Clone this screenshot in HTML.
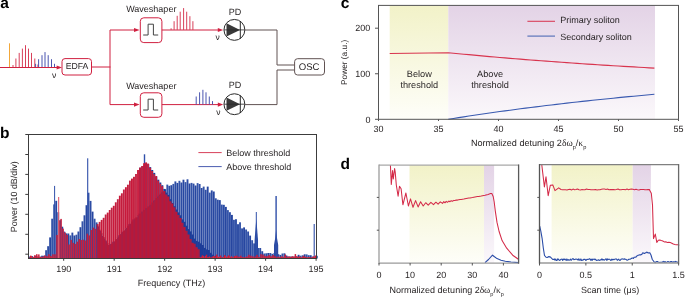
<!DOCTYPE html>
<html><head><meta charset="utf-8"><style>
html,body{margin:0;padding:0;background:#fff;}
svg{display:block;font-family:"Liberation Sans", sans-serif;will-change:transform;text-rendering:geometricPrecision;}
</style></head><body>
<svg width="685" height="297" viewBox="0 0 685 297">
<text x="0.2" y="8.4" font-size="15.5" text-anchor="start" fill="#000" font-weight="bold" >a</text>
<text x="0.0" y="138.2" font-size="15.5" text-anchor="start" fill="#000" font-weight="bold" >b</text>
<text x="340.8" y="8.4" font-size="15.5" text-anchor="start" fill="#000" font-weight="bold" >c</text>
<text x="340.6" y="169.2" font-size="15.5" text-anchor="start" fill="#000" font-weight="bold" >d</text>
<line x1="0" y1="67.5" x2="58" y2="67.5" stroke="#d02040" stroke-width="1"/>
<polygon points="56.6,65.4 62,67.5 56.6,69.6" fill="#d02040"/>
<line x1="9.5" y1="43.3" x2="9.5" y2="67" stroke="#f2a73a" stroke-width="1"/>
<line x1="13" y1="65" x2="13" y2="67" stroke="#d8405a" stroke-width="1"/>
<line x1="15.9" y1="58.5" x2="15.9" y2="67" stroke="#d8405a" stroke-width="1"/>
<line x1="19.2" y1="52.9" x2="19.2" y2="67" stroke="#d8405a" stroke-width="1"/>
<line x1="22.4" y1="48.6" x2="22.4" y2="67" stroke="#d8405a" stroke-width="1"/>
<line x1="25.5" y1="45.2" x2="25.5" y2="67" stroke="#d8405a" stroke-width="1"/>
<line x1="28.5" y1="48.6" x2="28.5" y2="67" stroke="#d8405a" stroke-width="1"/>
<line x1="31.5" y1="52.9" x2="31.5" y2="67" stroke="#d8405a" stroke-width="1"/>
<line x1="34.8" y1="58.5" x2="34.8" y2="67" stroke="#d8405a" stroke-width="1"/>
<line x1="37.9" y1="64.5" x2="37.9" y2="67" stroke="#d8405a" stroke-width="1"/>
<line x1="35.6" y1="63.8" x2="35.6" y2="67" stroke="#4a55b0" stroke-width="1"/>
<line x1="38.6" y1="59.2" x2="38.6" y2="67" stroke="#4a55b0" stroke-width="1"/>
<line x1="42" y1="55.2" x2="42" y2="67" stroke="#4a55b0" stroke-width="1"/>
<line x1="45" y1="52.1" x2="45" y2="67" stroke="#4a55b0" stroke-width="1"/>
<line x1="48.2" y1="55.2" x2="48.2" y2="67" stroke="#4a55b0" stroke-width="1"/>
<line x1="51.5" y1="59.2" x2="51.5" y2="67" stroke="#4a55b0" stroke-width="1"/>
<line x1="54.5" y1="63.8" x2="54.5" y2="67" stroke="#4a55b0" stroke-width="1"/>
<text x="52.0" y="78.3" font-size="8.5" text-anchor="start" fill="#231f20" font-weight="normal" >ν</text>
<rect x="62.0" y="58.6" width="29.5" height="16.4" rx="3" fill="#fff" stroke="#d02040" stroke-width="1"/>
<text x="77.0" y="69.4" font-size="8.7" text-anchor="middle" fill="#231f20" font-weight="normal" >EDFA</text>
<line x1="91.5" y1="67.0" x2="110.5" y2="67.0" stroke="#d02040" stroke-width="1"/>
<line x1="110.0" y1="30.0" x2="110.0" y2="104.6" stroke="#d02040" stroke-width="1"/>
<line x1="110.0" y1="30.0" x2="135" y2="30.0" stroke="#d02040" stroke-width="1"/>
<polygon points="134,27.9 139.6,30.0 134,32.1" fill="#d02040"/>
<rect x="140.3" y="17.8" width="21.6" height="24.8" rx="3.5" fill="#fff" stroke="#d02040" stroke-width="1"/>
<polyline points="143.2,35.0 148.1,35.0 148.1,24.2 153.4,24.2 153.4,35.0 158.2,35.0" fill="none" stroke="#444" stroke-width="1"/>
<text x="151.3" y="12.1" font-size="9" text-anchor="middle" fill="#231f20" font-weight="normal" >Waveshaper</text>
<line x1="161.9" y1="30.0" x2="219" y2="30.0" stroke="#d02040" stroke-width="1"/>
<polygon points="217.8,27.9 223.2,30.0 217.8,32.1" fill="#d02040"/>
<line x1="110.0" y1="104.6" x2="135" y2="104.6" stroke="#d02040" stroke-width="1"/>
<polygon points="134,102.5 139.6,104.6 134,106.69999999999999" fill="#d02040"/>
<rect x="140.3" y="92.8" width="21.6" height="24.5" rx="3.5" fill="#fff" stroke="#d02040" stroke-width="1"/>
<polyline points="143.2,110.0 148.1,110.0 148.1,99.2 153.4,99.2 153.4,110.0 158.2,110.0" fill="none" stroke="#444" stroke-width="1"/>
<text x="151.3" y="88.7" font-size="9" text-anchor="middle" fill="#231f20" font-weight="normal" >Waveshaper</text>
<line x1="161.9" y1="104.6" x2="219" y2="104.6" stroke="#d02040" stroke-width="1"/>
<polygon points="217.8,102.5 223.2,104.6 217.8,106.69999999999999" fill="#d02040"/>
<line x1="171.1" y1="28.3" x2="171.1" y2="30" stroke="#d8405a" stroke-width="1"/>
<line x1="174.1" y1="21.2" x2="174.1" y2="30" stroke="#d8405a" stroke-width="1"/>
<line x1="177.2" y1="15.8" x2="177.2" y2="30" stroke="#d8405a" stroke-width="1"/>
<line x1="180.2" y1="11.7" x2="180.2" y2="30" stroke="#d8405a" stroke-width="1"/>
<line x1="183.6" y1="8.1" x2="183.6" y2="30" stroke="#d8405a" stroke-width="1"/>
<line x1="186.7" y1="11.7" x2="186.7" y2="30" stroke="#d8405a" stroke-width="1"/>
<line x1="189.9" y1="16.2" x2="189.9" y2="30" stroke="#d8405a" stroke-width="1"/>
<line x1="192.9" y1="21.2" x2="192.9" y2="30" stroke="#d8405a" stroke-width="1"/>
<line x1="196.2" y1="96.5" x2="196.2" y2="104.6" stroke="#4a55b0" stroke-width="1"/>
<line x1="199.6" y1="92.3" x2="199.6" y2="104.6" stroke="#4a55b0" stroke-width="1"/>
<line x1="202.9" y1="89.8" x2="202.9" y2="104.6" stroke="#4a55b0" stroke-width="1"/>
<line x1="206" y1="92.3" x2="206" y2="104.6" stroke="#4a55b0" stroke-width="1"/>
<line x1="209.3" y1="96.5" x2="209.3" y2="104.6" stroke="#4a55b0" stroke-width="1"/>
<line x1="212.5" y1="101.1" x2="212.5" y2="104.6" stroke="#4a55b0" stroke-width="1"/>
<text x="215.4" y="40.4" font-size="8.5" text-anchor="start" fill="#231f20" font-weight="normal" >ν</text>
<text x="216.2" y="115.1" font-size="8.5" text-anchor="start" fill="#231f20" font-weight="normal" >ν</text>
<circle cx="234.4" cy="29.9" r="10.45" fill="#fff" stroke="#2a2a2a" stroke-width="1"/>
<polygon points="226.5,23.299999999999997 240,29.9 226.5,36.5" fill="#3a3a3a"/>
<line x1="240.3" y1="21.0" x2="240.3" y2="38.8" stroke="#2a2a2a" stroke-width="1"/>
<line x1="224" y1="29.9" x2="244.8" y2="29.9" stroke="#2a2a2a" stroke-width="0.8"/>
<text x="235.1" y="15.2" font-size="9" text-anchor="middle" fill="#231f20" font-weight="normal" >PD</text>
<circle cx="234.4" cy="104.2" r="10.45" fill="#fff" stroke="#2a2a2a" stroke-width="1"/>
<polygon points="226.5,97.60000000000001 240,104.2 226.5,110.8" fill="#3a3a3a"/>
<line x1="240.3" y1="95.3" x2="240.3" y2="113.10000000000001" stroke="#2a2a2a" stroke-width="1"/>
<line x1="224" y1="104.2" x2="244.8" y2="104.2" stroke="#2a2a2a" stroke-width="0.8"/>
<text x="235.1" y="87.5" font-size="9" text-anchor="middle" fill="#231f20" font-weight="normal" >PD</text>
<path d="M244.8,30 H277 V65 H294.6" fill="none" stroke="#605252" stroke-width="1"/>
<path d="M244.8,104.6 H277 V70 H294.6" fill="none" stroke="#605252" stroke-width="1"/>
<rect x="294.6" y="58.7" width="29.9" height="16.3" rx="3" fill="#fff" stroke="#605252" stroke-width="1"/>
<text x="309.1" y="70.4" font-size="9.6" text-anchor="middle" fill="#231f20" font-weight="normal" >OSC</text>
<g>
<rect x="29.00" y="256.5" width="1.88" height="2.0" fill="#2c4ca4"/>
<rect x="31.02" y="256.0" width="1.88" height="2.5" fill="#2646a0"/>
<rect x="33.04" y="257.5" width="1.88" height="1.0" fill="#3454a8"/>
<rect x="35.06" y="255.7" width="1.88" height="2.8" fill="#2c4ca4"/>
<rect x="37.08" y="257.1" width="1.88" height="1.4" fill="#2646a0"/>
<rect x="39.10" y="256.6" width="1.88" height="1.9" fill="#3454a8"/>
<rect x="41.12" y="255.7" width="1.88" height="2.8" fill="#2c4ca4"/>
<rect x="43.14" y="255.7" width="1.88" height="2.8" fill="#2646a0"/>
<rect x="45.16" y="250.2" width="1.88" height="8.3" fill="#3454a8"/>
<rect x="47.18" y="246.2" width="1.88" height="12.3" fill="#2c4ca4"/>
<rect x="49.20" y="237.4" width="1.88" height="21.1" fill="#2646a0"/>
<rect x="51.22" y="218.7" width="1.88" height="39.8" fill="#3454a8"/>
<rect x="53.24" y="204.4" width="1.88" height="54.1" fill="#2c4ca4"/>
<rect x="55.26" y="200.8" width="1.88" height="57.7" fill="#2646a0"/>
<rect x="57.28" y="212.2" width="1.88" height="46.3" fill="#3454a8"/>
<rect x="59.30" y="220.2" width="1.88" height="38.3" fill="#2c4ca4"/>
<rect x="61.32" y="226.7" width="1.88" height="31.8" fill="#2646a0"/>
<rect x="63.34" y="231.6" width="1.88" height="26.9" fill="#3454a8"/>
<rect x="65.36" y="233.4" width="1.88" height="25.1" fill="#2c4ca4"/>
<rect x="67.38" y="233.5" width="1.88" height="25.0" fill="#2646a0"/>
<rect x="69.40" y="235.4" width="1.88" height="23.1" fill="#3454a8"/>
<rect x="71.42" y="232.6" width="1.88" height="25.9" fill="#2c4ca4"/>
<rect x="73.44" y="235.5" width="1.88" height="23.0" fill="#2646a0"/>
<rect x="75.46" y="234.7" width="1.88" height="23.8" fill="#3454a8"/>
<rect x="77.48" y="231.5" width="1.88" height="27.0" fill="#2c4ca4"/>
<rect x="79.50" y="227.2" width="1.88" height="31.3" fill="#2646a0"/>
<rect x="81.52" y="221.3" width="1.88" height="37.2" fill="#3454a8"/>
<rect x="83.54" y="215.3" width="1.88" height="43.2" fill="#2c4ca4"/>
<rect x="85.56" y="205.2" width="1.88" height="53.3" fill="#2646a0"/>
<rect x="87.58" y="192.7" width="1.88" height="65.8" fill="#3454a8"/>
<rect x="89.60" y="200.9" width="1.88" height="57.6" fill="#2c4ca4"/>
<rect x="91.62" y="211.6" width="1.88" height="46.9" fill="#2646a0"/>
<rect x="93.64" y="218.7" width="1.88" height="39.8" fill="#3454a8"/>
<rect x="95.66" y="222.4" width="1.88" height="36.1" fill="#2c4ca4"/>
<rect x="97.68" y="226.6" width="1.88" height="31.9" fill="#2646a0"/>
<rect x="99.70" y="230.8" width="1.88" height="27.7" fill="#3454a8"/>
<rect x="101.72" y="236.0" width="1.88" height="22.5" fill="#2c4ca4"/>
<rect x="103.74" y="238.4" width="1.88" height="20.1" fill="#2646a0"/>
<rect x="105.76" y="241.2" width="1.88" height="17.3" fill="#3454a8"/>
<rect x="107.78" y="245.1" width="1.88" height="13.4" fill="#2c4ca4"/>
<rect x="109.80" y="244.0" width="1.88" height="14.5" fill="#2646a0"/>
<rect x="111.82" y="241.8" width="1.88" height="16.7" fill="#3454a8"/>
<rect x="113.84" y="241.6" width="1.88" height="16.9" fill="#2c4ca4"/>
<rect x="115.86" y="239.1" width="1.88" height="19.4" fill="#2646a0"/>
<rect x="117.88" y="235.3" width="1.88" height="23.2" fill="#3454a8"/>
<rect x="119.90" y="234.0" width="1.88" height="24.5" fill="#2c4ca4"/>
<rect x="121.92" y="231.6" width="1.88" height="26.9" fill="#2646a0"/>
<rect x="123.94" y="230.4" width="1.88" height="28.1" fill="#3454a8"/>
<rect x="125.96" y="227.8" width="1.88" height="30.7" fill="#2c4ca4"/>
<rect x="127.98" y="224.2" width="1.88" height="34.3" fill="#2646a0"/>
<rect x="130.00" y="224.1" width="1.88" height="34.4" fill="#3454a8"/>
<rect x="132.02" y="219.4" width="1.88" height="39.1" fill="#2c4ca4"/>
<rect x="134.04" y="218.3" width="1.88" height="40.2" fill="#2646a0"/>
<rect x="136.06" y="217.3" width="1.88" height="41.2" fill="#3454a8"/>
<rect x="138.08" y="213.5" width="1.88" height="45.0" fill="#2c4ca4"/>
<rect x="140.10" y="212.5" width="1.88" height="46.0" fill="#2646a0"/>
<rect x="142.12" y="209.3" width="1.88" height="49.2" fill="#3454a8"/>
<rect x="144.14" y="209.5" width="1.88" height="49.0" fill="#2c4ca4"/>
<rect x="146.16" y="208.1" width="1.88" height="50.4" fill="#2646a0"/>
<rect x="148.18" y="205.8" width="1.88" height="52.7" fill="#3454a8"/>
<rect x="150.20" y="204.9" width="1.88" height="53.6" fill="#2c4ca4"/>
<rect x="152.22" y="200.9" width="1.88" height="57.6" fill="#2646a0"/>
<rect x="154.24" y="199.7" width="1.88" height="58.8" fill="#3454a8"/>
<rect x="156.26" y="197.1" width="1.88" height="61.4" fill="#2c4ca4"/>
<rect x="158.28" y="195.0" width="1.88" height="63.5" fill="#2646a0"/>
<rect x="160.30" y="192.6" width="1.88" height="65.9" fill="#3454a8"/>
<rect x="162.32" y="191.7" width="1.88" height="66.8" fill="#2c4ca4"/>
<rect x="164.34" y="189.2" width="1.88" height="69.3" fill="#2646a0"/>
<rect x="166.36" y="184.6" width="1.88" height="73.9" fill="#3454a8"/>
<rect x="168.38" y="185.8" width="1.88" height="72.7" fill="#2c4ca4"/>
<rect x="170.40" y="185.2" width="1.88" height="73.3" fill="#2646a0"/>
<rect x="172.42" y="183.9" width="1.88" height="74.6" fill="#3454a8"/>
<rect x="174.44" y="181.4" width="1.88" height="77.1" fill="#2c4ca4"/>
<rect x="176.46" y="182.9" width="1.88" height="75.6" fill="#2646a0"/>
<rect x="178.48" y="180.8" width="1.88" height="77.7" fill="#3454a8"/>
<rect x="180.50" y="182.5" width="1.88" height="76.0" fill="#2c4ca4"/>
<rect x="182.52" y="179.7" width="1.88" height="78.8" fill="#2646a0"/>
<rect x="184.54" y="182.1" width="1.88" height="76.4" fill="#3454a8"/>
<rect x="186.56" y="179.3" width="1.88" height="79.2" fill="#2c4ca4"/>
<rect x="188.58" y="183.5" width="1.88" height="75.0" fill="#2646a0"/>
<rect x="190.60" y="182.9" width="1.88" height="75.6" fill="#3454a8"/>
<rect x="192.62" y="183.6" width="1.88" height="74.9" fill="#2c4ca4"/>
<rect x="194.64" y="185.5" width="1.88" height="73.0" fill="#2646a0"/>
<rect x="196.66" y="183.1" width="1.88" height="75.4" fill="#3454a8"/>
<rect x="198.68" y="184.0" width="1.88" height="74.5" fill="#2c4ca4"/>
<rect x="200.70" y="188.0" width="1.88" height="70.5" fill="#2646a0"/>
<rect x="202.72" y="186.6" width="1.88" height="71.9" fill="#3454a8"/>
<rect x="204.74" y="189.8" width="1.88" height="68.7" fill="#2c4ca4"/>
<rect x="206.76" y="186.6" width="1.88" height="71.9" fill="#2646a0"/>
<rect x="208.78" y="192.6" width="1.88" height="65.9" fill="#3454a8"/>
<rect x="210.80" y="190.4" width="1.88" height="68.1" fill="#2c4ca4"/>
<rect x="212.82" y="191.5" width="1.88" height="67.0" fill="#2646a0"/>
<rect x="214.84" y="198.3" width="1.88" height="60.2" fill="#3454a8"/>
<rect x="216.86" y="199.7" width="1.88" height="58.8" fill="#2c4ca4"/>
<rect x="218.88" y="200.1" width="1.88" height="58.4" fill="#2646a0"/>
<rect x="220.90" y="204.6" width="1.88" height="53.9" fill="#3454a8"/>
<rect x="222.92" y="204.8" width="1.88" height="53.7" fill="#2c4ca4"/>
<rect x="224.94" y="206.9" width="1.88" height="51.6" fill="#2646a0"/>
<rect x="226.96" y="210.1" width="1.88" height="48.4" fill="#3454a8"/>
<rect x="228.98" y="212.2" width="1.88" height="46.3" fill="#2c4ca4"/>
<rect x="231.00" y="214.9" width="1.88" height="43.6" fill="#2646a0"/>
<rect x="233.02" y="219.8" width="1.88" height="38.7" fill="#3454a8"/>
<rect x="235.04" y="219.2" width="1.88" height="39.3" fill="#2c4ca4"/>
<rect x="237.06" y="224.2" width="1.88" height="34.3" fill="#2646a0"/>
<rect x="239.08" y="222.3" width="1.88" height="36.2" fill="#3454a8"/>
<rect x="241.10" y="228.4" width="1.88" height="30.1" fill="#2c4ca4"/>
<rect x="243.12" y="227.4" width="1.88" height="31.1" fill="#2646a0"/>
<rect x="245.14" y="229.5" width="1.88" height="29.0" fill="#3454a8"/>
<rect x="247.16" y="231.5" width="1.88" height="27.0" fill="#2c4ca4"/>
<rect x="249.18" y="235.6" width="1.88" height="22.9" fill="#2646a0"/>
<rect x="251.20" y="240.2" width="1.88" height="18.3" fill="#3454a8"/>
<rect x="253.22" y="243.4" width="1.88" height="15.1" fill="#2c4ca4"/>
<rect x="255.24" y="245.3" width="1.88" height="13.2" fill="#2646a0"/>
<rect x="257.26" y="248.0" width="1.88" height="10.5" fill="#3454a8"/>
<rect x="259.28" y="248.0" width="1.88" height="10.5" fill="#2c4ca4"/>
<rect x="261.30" y="251.2" width="1.88" height="7.3" fill="#2646a0"/>
<rect x="263.32" y="253.5" width="1.88" height="5.0" fill="#3454a8"/>
<rect x="265.34" y="253.3" width="1.88" height="5.2" fill="#2c4ca4"/>
<rect x="267.36" y="253.0" width="1.88" height="5.5" fill="#2646a0"/>
<rect x="269.38" y="253.0" width="1.88" height="5.5" fill="#3454a8"/>
<rect x="271.40" y="253.8" width="1.88" height="4.7" fill="#2c4ca4"/>
<rect x="273.42" y="253.1" width="1.88" height="5.4" fill="#2646a0"/>
<rect x="275.44" y="254.9" width="1.88" height="3.6" fill="#3454a8"/>
<rect x="277.46" y="254.2" width="1.88" height="4.3" fill="#2c4ca4"/>
<rect x="279.48" y="254.9" width="1.88" height="3.6" fill="#2646a0"/>
<rect x="281.50" y="253.5" width="1.88" height="5.0" fill="#3454a8"/>
<rect x="283.52" y="253.3" width="1.88" height="5.2" fill="#2c4ca4"/>
<rect x="285.54" y="255.5" width="1.88" height="3.0" fill="#2646a0"/>
<rect x="287.56" y="256.4" width="1.88" height="2.1" fill="#3454a8"/>
<rect x="289.58" y="256.5" width="1.88" height="2.0" fill="#2c4ca4"/>
<rect x="291.60" y="256.4" width="1.88" height="2.1" fill="#2646a0"/>
<rect x="293.62" y="256.5" width="1.88" height="2.0" fill="#3454a8"/>
<rect x="295.64" y="256.3" width="1.88" height="2.2" fill="#2c4ca4"/>
<rect x="297.66" y="254.8" width="1.88" height="3.7" fill="#2646a0"/>
<rect x="299.68" y="255.7" width="1.88" height="2.8" fill="#3454a8"/>
<rect x="301.70" y="255.3" width="1.88" height="3.2" fill="#2c4ca4"/>
<rect x="303.72" y="254.3" width="1.88" height="4.2" fill="#2646a0"/>
<rect x="305.74" y="254.4" width="1.88" height="4.1" fill="#3454a8"/>
<rect x="307.76" y="255.2" width="1.88" height="3.3" fill="#2c4ca4"/>
<rect x="309.78" y="255.2" width="1.88" height="3.3" fill="#2646a0"/>
<rect x="311.80" y="256.5" width="1.88" height="2.0" fill="#3454a8"/>
<rect x="313.82" y="257.3" width="1.88" height="1.2" fill="#2c4ca4"/>
<rect x="315.84" y="255.8" width="1.88" height="2.7" fill="#2646a0"/>
<rect x="139.09" y="167.7" width="2.02" height="90.8" fill="#1c3c98"/>
<rect x="141.11" y="167.0" width="2.02" height="91.5" fill="#1c3c98"/>
<rect x="143.13" y="165.6" width="2.02" height="92.9" fill="#1c3c98"/>
<rect x="145.15" y="163.4" width="2.02" height="95.1" fill="#1c3c98"/>
<rect x="147.17" y="164.2" width="2.02" height="94.3" fill="#1c3c98"/>
<rect x="149.19" y="167.1" width="2.02" height="91.4" fill="#1c3c98"/>
<rect x="151.21" y="170.0" width="2.02" height="88.5" fill="#1c3c98"/>
<rect x="153.23" y="172.9" width="2.02" height="85.6" fill="#1c3c98"/>
<rect x="155.25" y="176.4" width="2.02" height="82.1" fill="#1c3c98"/>
<rect x="157.27" y="179.7" width="2.02" height="78.8" fill="#1c3c98"/>
<rect x="159.29" y="182.5" width="2.02" height="76.0" fill="#1c3c98"/>
<rect x="161.31" y="185.2" width="2.02" height="73.3" fill="#1c3c98"/>
<rect x="163.33" y="188.9" width="2.02" height="69.6" fill="#1c3c98"/>
<rect x="165.35" y="192.6" width="2.02" height="65.9" fill="#1c3c98"/>
<rect x="167.37" y="194.9" width="2.02" height="63.6" fill="#1c3c98"/>
<rect x="169.39" y="199.2" width="2.02" height="59.3" fill="#1c3c98"/>
<rect x="171.41" y="203.0" width="2.02" height="55.5" fill="#1c3c98"/>
<rect x="173.43" y="206.2" width="2.02" height="52.3" fill="#1c3c98"/>
<rect x="175.45" y="209.5" width="2.02" height="49.0" fill="#1c3c98"/>
<rect x="177.47" y="212.4" width="2.02" height="46.1" fill="#1c3c98"/>
<rect x="179.49" y="215.3" width="2.02" height="43.2" fill="#1c3c98"/>
<rect x="181.51" y="219.4" width="2.02" height="39.1" fill="#1c3c98"/>
<rect x="183.53" y="221.8" width="2.02" height="36.7" fill="#1c3c98"/>
<rect x="185.55" y="225.7" width="2.02" height="32.8" fill="#1c3c98"/>
<rect x="187.57" y="229.1" width="2.02" height="29.4" fill="#1c3c98"/>
<rect x="189.59" y="231.4" width="2.02" height="27.1" fill="#1c3c98"/>
<rect x="191.61" y="234.5" width="2.02" height="24.0" fill="#1c3c98"/>
<rect x="193.63" y="238.6" width="2.02" height="19.9" fill="#1c3c98"/>
<rect x="195.65" y="240.9" width="2.02" height="17.6" fill="#1c3c98"/>
<rect x="197.67" y="241.7" width="2.02" height="16.8" fill="#1c3c98"/>
<rect x="199.69" y="243.3" width="2.02" height="15.2" fill="#1c3c98"/>
<rect x="201.71" y="245.0" width="2.02" height="13.5" fill="#1c3c98"/>
<rect x="203.73" y="247.9" width="2.02" height="10.6" fill="#1c3c98"/>
<rect x="205.75" y="249.4" width="2.02" height="9.1" fill="#1c3c98"/>
<rect x="207.77" y="250.0" width="2.02" height="8.5" fill="#1c3c98"/>
<rect x="209.79" y="252.8" width="2.02" height="5.7" fill="#1c3c98"/>
<rect x="211.81" y="254.7" width="2.02" height="3.8" fill="#1c3c98"/>
<rect x="213.83" y="255.9" width="2.02" height="2.6" fill="#1c3c98"/>
<rect x="215.85" y="256.8" width="2.02" height="1.7" fill="#1c3c98"/>
<polygon points="254.6,240 255.6,227 256.3,219 257.0,227 258.0,240 258.0,258.5 254.6,258.5" fill="#2a4aa2"/>
<polygon points="274.0,245 275.2,238 276.1,230 277.0,238 278.2,245 278.2,258.5 274.0,258.5" fill="#2a4aa2"/>
<rect x="54.10" y="185.9" width="1.0" height="72.6" fill="#3050aa"/>
<rect x="87.15" y="158.3" width="1.1" height="100.2" fill="#3050aa"/>
<rect x="143.80" y="154.3" width="1.4" height="104.2" fill="#3050aa"/>
<rect x="255.80" y="212" width="1.0" height="46.5" fill="#3050aa"/>
<rect x="275.40" y="196" width="1.4" height="62.5" fill="#3050aa"/>
<rect x="313.65" y="224" width="1.1" height="34.5" fill="#3050aa"/>
</g><g>
<rect x="30.01" y="255.6" width="1.5" height="2.9" fill="#cc1c3a"/>
<rect x="29.00" y="257.5" width="1.2" height="1.0" fill="#d02a44"/>
<rect x="32.03" y="257.5" width="1.5" height="1.0" fill="#cc1c3a"/>
<rect x="31.02" y="256.0" width="1.2" height="2.5" fill="#d02a44"/>
<rect x="34.05" y="255.2" width="1.5" height="3.3" fill="#cc1c3a"/>
<rect x="33.04" y="256.8" width="1.2" height="1.7" fill="#d02a44"/>
<rect x="36.07" y="254.2" width="1.5" height="4.3" fill="#cc1c3a"/>
<rect x="35.06" y="257.0" width="1.2" height="1.5" fill="#d02a44"/>
<rect x="38.09" y="254.4" width="1.5" height="4.1" fill="#cc1c3a"/>
<rect x="37.08" y="256.3" width="1.2" height="2.2" fill="#d02a44"/>
<rect x="40.11" y="256.8" width="1.5" height="1.7" fill="#cc1c3a"/>
<rect x="39.10" y="257.3" width="1.2" height="1.2" fill="#d02a44"/>
<rect x="42.13" y="256.5" width="1.5" height="2.0" fill="#cc1c3a"/>
<rect x="41.12" y="257.3" width="1.2" height="1.2" fill="#d02a44"/>
<rect x="44.15" y="255.4" width="1.5" height="3.1" fill="#cc1c3a"/>
<rect x="43.14" y="257.3" width="1.2" height="1.2" fill="#d02a44"/>
<rect x="46.17" y="256.0" width="1.5" height="2.5" fill="#cc1c3a"/>
<rect x="45.16" y="257.5" width="1.2" height="1.0" fill="#d02a44"/>
<rect x="48.19" y="254.3" width="1.5" height="4.2" fill="#cc1c3a"/>
<rect x="47.18" y="257.1" width="1.2" height="1.4" fill="#d02a44"/>
<rect x="50.21" y="255.9" width="1.5" height="2.6" fill="#cc1c3a"/>
<rect x="49.20" y="256.7" width="1.2" height="1.8" fill="#d02a44"/>
<rect x="52.23" y="254.3" width="1.5" height="4.2" fill="#cc1c3a"/>
<rect x="51.22" y="257.0" width="1.2" height="1.5" fill="#d02a44"/>
<rect x="54.25" y="254.3" width="1.5" height="4.2" fill="#cc1c3a"/>
<rect x="53.24" y="256.8" width="1.2" height="1.7" fill="#d02a44"/>
<rect x="56.27" y="235.0" width="1.52" height="23.5" fill="#c81e3c"/>
<rect x="58.29" y="220.5" width="1.52" height="38.0" fill="#c81e3c"/>
<rect x="60.31" y="218.9" width="1.52" height="39.6" fill="#c81e3c"/>
<rect x="62.33" y="228.6" width="1.52" height="29.9" fill="#c81e3c"/>
<rect x="64.35" y="232.5" width="1.52" height="26.0" fill="#c81e3c"/>
<rect x="66.37" y="234.9" width="1.52" height="23.6" fill="#c81e3c"/>
<rect x="68.39" y="244.5" width="1.52" height="14.0" fill="#c81e3c"/>
<rect x="70.41" y="239.9" width="1.52" height="18.6" fill="#c81e3c"/>
<rect x="72.43" y="242.8" width="1.52" height="15.7" fill="#c81e3c"/>
<rect x="74.45" y="243.9" width="1.52" height="14.6" fill="#c81e3c"/>
<rect x="76.47" y="241.7" width="1.52" height="16.8" fill="#c81e3c"/>
<rect x="78.49" y="239.1" width="1.52" height="19.4" fill="#c81e3c"/>
<rect x="80.51" y="240.0" width="1.52" height="18.5" fill="#c81e3c"/>
<rect x="82.53" y="239.7" width="1.52" height="18.8" fill="#c81e3c"/>
<rect x="84.55" y="240.5" width="1.52" height="18.0" fill="#c81e3c"/>
<rect x="86.57" y="233.7" width="1.52" height="24.8" fill="#c81e3c"/>
<rect x="88.59" y="235.4" width="1.52" height="23.1" fill="#c81e3c"/>
<rect x="90.61" y="230.0" width="1.52" height="28.5" fill="#c81e3c"/>
<rect x="92.63" y="227.6" width="1.52" height="30.9" fill="#c81e3c"/>
<rect x="94.65" y="228.8" width="1.52" height="29.7" fill="#c81e3c"/>
<rect x="96.67" y="224.1" width="1.88" height="2.2" fill="#c41c3c"/>
<rect x="98.69" y="221.9" width="1.88" height="8.5" fill="#c22444"/>
<rect x="100.71" y="219.9" width="1.88" height="14.2" fill="#c8183a"/>
<rect x="102.73" y="217.8" width="1.88" height="19.8" fill="#c41c3c"/>
<rect x="104.75" y="214.5" width="1.88" height="26.2" fill="#c22444"/>
<rect x="106.77" y="212.6" width="1.88" height="31.2" fill="#c8183a"/>
<rect x="108.79" y="210.0" width="1.88" height="35.5" fill="#c41c3c"/>
<rect x="110.81" y="207.7" width="1.88" height="36.1" fill="#c22444"/>
<rect x="112.83" y="205.8" width="1.88" height="36.3" fill="#c8183a"/>
<rect x="114.85" y="202.3" width="1.88" height="37.8" fill="#c41c3c"/>
<rect x="116.87" y="199.2" width="1.88" height="38.6" fill="#c22444"/>
<rect x="118.89" y="195.7" width="1.88" height="39.7" fill="#c8183a"/>
<rect x="120.91" y="193.3" width="1.88" height="39.8" fill="#c41c3c"/>
<rect x="122.93" y="189.5" width="1.88" height="41.4" fill="#c22444"/>
<rect x="124.95" y="187.2" width="1.88" height="41.5" fill="#c8183a"/>
<rect x="126.97" y="184.7" width="1.88" height="41.8" fill="#c41c3c"/>
<rect x="128.99" y="180.6" width="1.88" height="43.6" fill="#c22444"/>
<rect x="131.01" y="178.6" width="1.88" height="43.5" fill="#c8183a"/>
<rect x="133.03" y="176.8" width="1.88" height="43.3" fill="#c41c3c"/>
<rect x="135.05" y="174.0" width="1.88" height="44.1" fill="#c22444"/>
<rect x="137.07" y="170.0" width="1.88" height="46.0" fill="#c8183a"/>
<rect x="139.09" y="167.6" width="1.88" height="46.4" fill="#c41c3c"/>
<rect x="141.11" y="166.0" width="1.88" height="46.1" fill="#c22444"/>
<rect x="143.13" y="163.2" width="1.88" height="47.2" fill="#c8183a"/>
<rect x="145.15" y="162.4" width="1.88" height="46.3" fill="#c41c3c"/>
<rect x="147.17" y="163.6" width="1.88" height="43.3" fill="#c22444"/>
<rect x="149.19" y="167.8" width="1.88" height="37.4" fill="#c8183a"/>
<rect x="151.21" y="171.0" width="1.88" height="32.1" fill="#c41c3c"/>
<rect x="153.23" y="174.2" width="1.88" height="26.6" fill="#c22444"/>
<rect x="155.25" y="176.1" width="1.88" height="22.4" fill="#c8183a"/>
<rect x="157.27" y="180.7" width="1.88" height="15.6" fill="#c41c3c"/>
<rect x="159.29" y="183.9" width="1.88" height="10.3" fill="#c22444"/>
<rect x="161.31" y="186.2" width="1.88" height="5.9" fill="#c8183a"/>
<rect x="199.69" y="257.4" width="1.5" height="1.1" fill="#cc1c3a"/>
<rect x="198.68" y="257.1" width="1.2" height="1.4" fill="#d02a44"/>
<rect x="201.71" y="255.3" width="1.5" height="3.2" fill="#cc1c3a"/>
<rect x="200.70" y="256.8" width="1.2" height="1.7" fill="#d02a44"/>
<rect x="203.73" y="257.3" width="1.5" height="1.2" fill="#cc1c3a"/>
<rect x="202.72" y="256.0" width="1.2" height="2.5" fill="#d02a44"/>
<rect x="205.75" y="254.7" width="1.5" height="3.8" fill="#cc1c3a"/>
<rect x="204.74" y="256.0" width="1.2" height="2.5" fill="#d02a44"/>
<rect x="207.77" y="257.1" width="1.5" height="1.4" fill="#cc1c3a"/>
<rect x="206.76" y="257.2" width="1.2" height="1.3" fill="#d02a44"/>
<rect x="209.79" y="257.4" width="1.5" height="1.1" fill="#cc1c3a"/>
<rect x="208.78" y="256.4" width="1.2" height="2.1" fill="#d02a44"/>
<rect x="211.81" y="256.6" width="1.5" height="1.9" fill="#cc1c3a"/>
<rect x="210.80" y="257.5" width="1.2" height="1.0" fill="#d02a44"/>
<rect x="213.83" y="256.0" width="1.5" height="2.5" fill="#cc1c3a"/>
<rect x="212.82" y="256.2" width="1.2" height="2.3" fill="#d02a44"/>
<rect x="215.85" y="254.6" width="1.5" height="3.9" fill="#cc1c3a"/>
<rect x="214.84" y="257.3" width="1.2" height="1.2" fill="#d02a44"/>
<rect x="217.87" y="257.0" width="1.5" height="1.5" fill="#cc1c3a"/>
<rect x="216.86" y="256.1" width="1.2" height="2.4" fill="#d02a44"/>
<rect x="219.89" y="255.5" width="1.5" height="3.0" fill="#cc1c3a"/>
<rect x="218.88" y="256.5" width="1.2" height="2.0" fill="#d02a44"/>
<rect x="221.91" y="257.2" width="1.5" height="1.3" fill="#cc1c3a"/>
<rect x="220.90" y="257.6" width="1.2" height="0.9" fill="#d02a44"/>
<rect x="223.93" y="255.1" width="1.5" height="3.4" fill="#cc1c3a"/>
<rect x="222.92" y="257.0" width="1.2" height="1.5" fill="#d02a44"/>
<rect x="225.95" y="257.2" width="1.5" height="1.3" fill="#cc1c3a"/>
<rect x="224.94" y="256.1" width="1.2" height="2.4" fill="#d02a44"/>
<rect x="227.97" y="255.3" width="1.5" height="3.2" fill="#cc1c3a"/>
<rect x="226.96" y="256.3" width="1.2" height="2.2" fill="#d02a44"/>
<rect x="229.99" y="257.2" width="1.5" height="1.3" fill="#cc1c3a"/>
<rect x="228.98" y="256.2" width="1.2" height="2.3" fill="#d02a44"/>
<rect x="232.01" y="257.3" width="1.5" height="1.2" fill="#cc1c3a"/>
<rect x="231.00" y="256.2" width="1.2" height="2.3" fill="#d02a44"/>
<rect x="234.03" y="255.9" width="1.5" height="2.6" fill="#cc1c3a"/>
<rect x="233.02" y="257.1" width="1.2" height="1.4" fill="#d02a44"/>
<rect x="236.05" y="255.6" width="1.5" height="2.9" fill="#cc1c3a"/>
<rect x="235.04" y="256.1" width="1.2" height="2.4" fill="#d02a44"/>
<rect x="238.07" y="256.6" width="1.5" height="1.9" fill="#cc1c3a"/>
<rect x="237.06" y="257.5" width="1.2" height="1.0" fill="#d02a44"/>
<rect x="240.09" y="255.7" width="1.5" height="2.8" fill="#cc1c3a"/>
<rect x="239.08" y="257.3" width="1.2" height="1.2" fill="#d02a44"/>
<rect x="242.11" y="257.1" width="1.5" height="1.4" fill="#cc1c3a"/>
<rect x="241.10" y="257.4" width="1.2" height="1.1" fill="#d02a44"/>
<rect x="244.13" y="257.3" width="1.5" height="1.2" fill="#cc1c3a"/>
<rect x="243.12" y="257.4" width="1.2" height="1.1" fill="#d02a44"/>
<rect x="246.15" y="256.4" width="1.5" height="2.1" fill="#cc1c3a"/>
<rect x="245.14" y="257.2" width="1.2" height="1.3" fill="#d02a44"/>
<rect x="248.17" y="254.8" width="1.5" height="3.7" fill="#cc1c3a"/>
<rect x="247.16" y="257.2" width="1.2" height="1.3" fill="#d02a44"/>
<rect x="250.19" y="255.7" width="1.5" height="2.8" fill="#cc1c3a"/>
<rect x="249.18" y="257.4" width="1.2" height="1.1" fill="#d02a44"/>
<rect x="252.21" y="256.3" width="1.5" height="2.2" fill="#cc1c3a"/>
<rect x="251.20" y="257.7" width="1.2" height="0.8" fill="#d02a44"/>
<rect x="254.23" y="256.6" width="1.5" height="1.9" fill="#cc1c3a"/>
<rect x="253.22" y="257.7" width="1.2" height="0.8" fill="#d02a44"/>
<rect x="256.25" y="254.9" width="1.5" height="3.6" fill="#cc1c3a"/>
<rect x="255.24" y="256.8" width="1.2" height="1.7" fill="#d02a44"/>
<rect x="258.27" y="256.8" width="1.5" height="1.7" fill="#cc1c3a"/>
<rect x="257.26" y="256.9" width="1.2" height="1.6" fill="#d02a44"/>
<rect x="260.29" y="254.2" width="1.5" height="4.3" fill="#cc1c3a"/>
<rect x="259.28" y="257.5" width="1.2" height="1.0" fill="#d02a44"/>
<rect x="262.31" y="254.6" width="1.5" height="3.9" fill="#cc1c3a"/>
<rect x="261.30" y="257.0" width="1.2" height="1.5" fill="#d02a44"/>
<rect x="264.33" y="255.8" width="1.5" height="2.7" fill="#cc1c3a"/>
<rect x="263.32" y="256.3" width="1.2" height="2.2" fill="#d02a44"/>
<rect x="266.35" y="256.1" width="1.5" height="2.4" fill="#cc1c3a"/>
<rect x="265.34" y="256.8" width="1.2" height="1.7" fill="#d02a44"/>
<rect x="268.37" y="255.1" width="1.5" height="3.4" fill="#cc1c3a"/>
<rect x="267.36" y="256.0" width="1.2" height="2.5" fill="#d02a44"/>
<rect x="270.39" y="256.3" width="1.5" height="2.2" fill="#cc1c3a"/>
<rect x="269.38" y="256.3" width="1.2" height="2.2" fill="#d02a44"/>
<rect x="272.41" y="255.0" width="1.5" height="3.5" fill="#cc1c3a"/>
<rect x="271.40" y="256.6" width="1.2" height="1.9" fill="#d02a44"/>
<rect x="274.43" y="256.1" width="1.5" height="2.4" fill="#cc1c3a"/>
<rect x="273.42" y="257.1" width="1.2" height="1.4" fill="#d02a44"/>
<rect x="276.45" y="257.3" width="1.5" height="1.2" fill="#cc1c3a"/>
<rect x="275.44" y="257.5" width="1.2" height="1.0" fill="#d02a44"/>
<rect x="278.47" y="257.3" width="1.5" height="1.2" fill="#cc1c3a"/>
<rect x="277.46" y="256.4" width="1.2" height="2.1" fill="#d02a44"/>
<rect x="280.49" y="256.6" width="1.5" height="1.9" fill="#cc1c3a"/>
<rect x="279.48" y="257.4" width="1.2" height="1.1" fill="#d02a44"/>
<rect x="282.51" y="257.2" width="1.5" height="1.3" fill="#cc1c3a"/>
<rect x="281.50" y="256.3" width="1.2" height="2.2" fill="#d02a44"/>
<rect x="284.53" y="254.5" width="1.5" height="4.0" fill="#cc1c3a"/>
<rect x="283.52" y="256.6" width="1.2" height="1.9" fill="#d02a44"/>
<rect x="286.55" y="256.5" width="1.5" height="2.0" fill="#cc1c3a"/>
<rect x="285.54" y="257.3" width="1.2" height="1.2" fill="#d02a44"/>
<rect x="288.57" y="256.5" width="1.5" height="2.0" fill="#cc1c3a"/>
<rect x="287.56" y="256.9" width="1.2" height="1.6" fill="#d02a44"/>
<rect x="290.59" y="256.9" width="1.5" height="1.6" fill="#cc1c3a"/>
<rect x="289.58" y="256.9" width="1.2" height="1.6" fill="#d02a44"/>
<rect x="292.61" y="256.6" width="1.5" height="1.9" fill="#cc1c3a"/>
<rect x="291.60" y="256.1" width="1.2" height="2.4" fill="#d02a44"/>
<rect x="294.63" y="254.1" width="1.5" height="4.4" fill="#cc1c3a"/>
<rect x="293.62" y="256.8" width="1.2" height="1.7" fill="#d02a44"/>
<rect x="296.65" y="256.6" width="1.5" height="1.9" fill="#cc1c3a"/>
<rect x="295.64" y="256.1" width="1.2" height="2.4" fill="#d02a44"/>
<rect x="298.67" y="256.4" width="1.5" height="2.1" fill="#cc1c3a"/>
<rect x="297.66" y="257.1" width="1.2" height="1.4" fill="#d02a44"/>
<rect x="300.69" y="257.5" width="1.5" height="1.0" fill="#cc1c3a"/>
<rect x="299.68" y="257.1" width="1.2" height="1.4" fill="#d02a44"/>
<rect x="302.71" y="255.8" width="1.5" height="2.7" fill="#cc1c3a"/>
<rect x="301.70" y="256.8" width="1.2" height="1.7" fill="#d02a44"/>
<rect x="304.73" y="256.8" width="1.5" height="1.7" fill="#cc1c3a"/>
<rect x="303.72" y="256.8" width="1.2" height="1.7" fill="#d02a44"/>
<rect x="306.75" y="257.5" width="1.5" height="1.0" fill="#cc1c3a"/>
<rect x="305.74" y="257.3" width="1.2" height="1.2" fill="#d02a44"/>
<rect x="308.77" y="257.2" width="1.5" height="1.3" fill="#cc1c3a"/>
<rect x="307.76" y="257.0" width="1.2" height="1.5" fill="#d02a44"/>
<rect x="310.79" y="257.4" width="1.5" height="1.1" fill="#cc1c3a"/>
<rect x="309.78" y="257.7" width="1.2" height="0.8" fill="#d02a44"/>
<rect x="312.81" y="256.4" width="1.5" height="2.1" fill="#cc1c3a"/>
<rect x="311.80" y="257.3" width="1.2" height="1.2" fill="#d02a44"/>
<rect x="314.83" y="255.5" width="1.5" height="3.0" fill="#cc1c3a"/>
<rect x="313.82" y="256.8" width="1.2" height="1.7" fill="#d02a44"/>
<defs><pattern id="ovp" patternUnits="userSpaceOnUse" x="0" y="0" width="4.04" height="10"><rect width="4.04" height="10" fill="#b41a3c"/><rect x="0.3" width="1.1" height="10" fill="#a41e48"/><rect x="2.4" width="0.9" height="10" fill="#bc1636"/></pattern></defs>
<polygon points="96.67,225.8 98.69,225.8 98.69,229.8 100.71,229.8 100.71,233.6 102.73,233.6 102.73,237.1 104.75,237.1 104.75,240.2 106.77,240.2 106.77,243.3 108.79,243.3 108.79,245.0 110.81,245.0 110.81,243.3 112.83,243.3 112.83,241.6 114.85,241.6 114.85,239.6 116.87,239.6 116.87,237.3 118.89,237.3 118.89,234.9 120.91,234.9 120.91,232.6 122.93,232.6 122.93,230.4 124.95,230.4 124.95,228.2 126.97,228.2 126.97,226.0 128.99,226.0 128.99,223.7 131.01,223.7 131.01,221.6 133.03,221.6 133.03,219.6 135.05,219.6 135.05,217.6 137.07,217.6 137.07,215.5 139.09,215.5 139.09,213.5 141.11,213.5 141.11,211.6 143.13,211.6 143.13,209.9 145.15,209.9 145.15,208.1 147.17,208.1 147.17,206.4 149.19,206.4 149.19,204.7 151.21,204.7 151.21,202.6 153.23,202.6 153.23,200.3 155.25,200.3 155.25,198.0 157.27,198.0 157.27,195.7 159.29,195.7 159.29,193.7 161.31,193.7 161.31,191.7 163.33,191.7 163.33,191.1 165.35,191.1 165.35,194.6 167.37,194.6 167.37,196.4 169.39,196.4 169.39,201.2 171.41,201.2 171.41,203.5 173.43,203.5 173.43,207.2 175.45,207.2 175.45,211.7 177.47,211.7 177.47,215.0 179.49,215.0 179.49,217.9 181.51,217.9 181.51,222.7 183.53,222.7 183.53,227.0 185.55,227.0 185.55,230.8 187.57,230.8 187.57,234.6 189.59,234.6 189.59,239.0 191.61,239.0 191.61,242.8 193.63,242.8 193.63,243.7 195.65,243.7 195.65,247.2 197.67,247.2 197.67,249.3 199.69,249.3 199.69,258.5 96.67,258.5" fill="url(#ovp)"/>
<rect x="58.1" y="197" width="1.1" height="61.5" fill="#e06070"/>
</g>
<rect x="28.5" y="134.5" width="288.0" height="124.0" fill="none" stroke="#3c3c3c" stroke-width="1"/>
<line x1="25.3" y1="134.5" x2="28.5" y2="134.5" stroke="#3c3c3c" stroke-width="1"/>
<line x1="25.3" y1="154.5" x2="28.5" y2="154.5" stroke="#3c3c3c" stroke-width="1"/>
<line x1="25.3" y1="174.4" x2="28.5" y2="174.4" stroke="#3c3c3c" stroke-width="1"/>
<line x1="25.3" y1="194.4" x2="28.5" y2="194.4" stroke="#3c3c3c" stroke-width="1"/>
<line x1="25.3" y1="214.3" x2="28.5" y2="214.3" stroke="#3c3c3c" stroke-width="1"/>
<line x1="25.3" y1="234.3" x2="28.5" y2="234.3" stroke="#3c3c3c" stroke-width="1"/>
<line x1="25.3" y1="254.2" x2="28.5" y2="254.2" stroke="#3c3c3c" stroke-width="1"/>
<line x1="63.70" y1="258.5" x2="63.70" y2="260.8" stroke="#3c3c3c" stroke-width="1"/>
<text x="63.70" y="272.2" font-size="9" text-anchor="middle" fill="#231f20" font-weight="normal" >190</text>
<line x1="114.18" y1="258.5" x2="114.18" y2="260.8" stroke="#3c3c3c" stroke-width="1"/>
<text x="114.18" y="272.2" font-size="9" text-anchor="middle" fill="#231f20" font-weight="normal" >191</text>
<line x1="164.66" y1="258.5" x2="164.66" y2="260.8" stroke="#3c3c3c" stroke-width="1"/>
<text x="164.66" y="272.2" font-size="9" text-anchor="middle" fill="#231f20" font-weight="normal" >192</text>
<line x1="215.14" y1="258.5" x2="215.14" y2="260.8" stroke="#3c3c3c" stroke-width="1"/>
<text x="215.14" y="272.2" font-size="9" text-anchor="middle" fill="#231f20" font-weight="normal" >193</text>
<line x1="265.62" y1="258.5" x2="265.62" y2="260.8" stroke="#3c3c3c" stroke-width="1"/>
<text x="265.62" y="272.2" font-size="9" text-anchor="middle" fill="#231f20" font-weight="normal" >194</text>
<line x1="316.10" y1="258.5" x2="316.10" y2="260.8" stroke="#3c3c3c" stroke-width="1"/>
<text x="316.10" y="272.2" font-size="9" text-anchor="middle" fill="#231f20" font-weight="normal" >195</text>
<text x="171.5" y="285.5" font-size="9" text-anchor="middle" fill="#231f20" font-weight="normal" >Frequency (THz)</text>
<text x="0" y="0" font-size="8.95" text-anchor="middle" fill="#231f20" font-weight="normal" transform="translate(16.9,196.8) rotate(-90)">Power (10 dB/div)</text>
<line x1="198.4" y1="152.6" x2="221.7" y2="152.6" stroke="#d8405a" stroke-width="1"/>
<line x1="198.4" y1="166.6" x2="221.7" y2="166.6" stroke="#4a5cb0" stroke-width="1"/>
<text x="226.2" y="156.1" font-size="9" text-anchor="start" fill="#231f20" font-weight="normal" >Below threshold</text>
<text x="226.2" y="169.8" font-size="9" text-anchor="start" fill="#231f20" font-weight="normal" >Above threshold</text>
<defs>
<linearGradient id="gy" x1="0" y1="0" x2="0" y2="1"><stop offset="0" stop-color="#f2f2c8"/><stop offset="1" stop-color="#fefef9"/></linearGradient>
<linearGradient id="gp" x1="0" y1="0" x2="0" y2="1"><stop offset="0" stop-color="#e3d3e6"/><stop offset="1" stop-color="#fbf8fb"/></linearGradient>
</defs>
<rect x="389.7" y="5.4" width="58.60000000000002" height="113.89999999999999" fill="url(#gy)"/>
<rect x="448.3" y="5.4" width="206.7" height="113.89999999999999" fill="url(#gp)"/>
<polyline points="389.7,53.50 448.3,52.70 453.5,53.21 458.6,53.71 463.8,54.20 468.9,54.69 474.1,55.17 479.2,55.64 484.4,56.10 489.5,56.56 494.7,57.01 499.8,57.45 505.0,57.89 510.1,58.32 515.3,58.75 520.4,59.17 525.6,59.58 530.7,59.98 535.9,60.38 541.0,60.78 546.2,61.16 551.4,61.55 556.5,61.92 561.7,62.29 566.8,62.66 572.0,63.02 577.1,63.37 582.3,63.72 587.4,64.07 592.6,64.41 597.7,64.74 602.9,65.07 608.0,65.39 613.2,65.71 618.3,66.03 623.5,66.34 628.6,66.64 633.8,66.94 638.9,67.24 644.1,67.53 649.2,67.82 654.4,68.10" fill="none" stroke="#d8344e" stroke-width="1.15" stroke-linejoin="round"/>
<polyline points="448.3,119.30 453.5,118.48 458.6,117.66 463.8,116.86 468.9,116.07 474.1,115.30 479.2,114.53 484.4,113.78 489.5,113.03 494.7,112.30 499.8,111.58 505.0,110.87 510.1,110.17 515.3,109.48 520.4,108.80 525.6,108.14 530.7,107.48 535.9,106.83 541.0,106.19 546.2,105.56 551.4,104.94 556.5,104.33 561.7,103.73 566.8,103.13 572.0,102.55 577.1,101.97 582.3,101.41 587.4,100.85 592.6,100.30 597.7,99.76 602.9,99.22 608.0,98.70 613.2,98.18 618.3,97.67 623.5,97.16 628.6,96.67 633.8,96.18 638.9,95.70 644.1,95.23 649.2,94.76 654.4,94.30" fill="none" stroke="#3a5ab0" stroke-width="1.1" stroke-linejoin="round"/>
<rect x="378.5" y="5.4" width="300.0" height="113.89999999999999" fill="none" stroke="#555" stroke-width="1"/>
<line x1="375" y1="119.30" x2="378.5" y2="119.30" stroke="#555" stroke-width="1"/>
<text x="370.4" y="122.50" font-size="9" text-anchor="end" fill="#231f20" font-weight="normal" >0</text>
<line x1="375" y1="73.75" x2="378.5" y2="73.75" stroke="#555" stroke-width="1"/>
<text x="370.4" y="76.95" font-size="9" text-anchor="end" fill="#231f20" font-weight="normal" >100</text>
<line x1="375" y1="28.20" x2="378.5" y2="28.20" stroke="#555" stroke-width="1"/>
<text x="370.4" y="31.40" font-size="9" text-anchor="end" fill="#231f20" font-weight="normal" >200</text>
<line x1="378.50" y1="119.3" x2="378.50" y2="121" stroke="#555" stroke-width="1"/>
<text x="378.50" y="132.4" font-size="9" text-anchor="middle" fill="#231f20" font-weight="normal" >30</text>
<line x1="438.50" y1="119.3" x2="438.50" y2="121" stroke="#555" stroke-width="1"/>
<text x="438.50" y="132.4" font-size="9" text-anchor="middle" fill="#231f20" font-weight="normal" >35</text>
<line x1="498.50" y1="119.3" x2="498.50" y2="121" stroke="#555" stroke-width="1"/>
<text x="498.50" y="132.4" font-size="9" text-anchor="middle" fill="#231f20" font-weight="normal" >40</text>
<line x1="558.50" y1="119.3" x2="558.50" y2="121" stroke="#555" stroke-width="1"/>
<text x="558.50" y="132.4" font-size="9" text-anchor="middle" fill="#231f20" font-weight="normal" >45</text>
<line x1="618.50" y1="119.3" x2="618.50" y2="121" stroke="#555" stroke-width="1"/>
<text x="618.50" y="132.4" font-size="9" text-anchor="middle" fill="#231f20" font-weight="normal" >50</text>
<line x1="678.50" y1="119.3" x2="678.50" y2="121" stroke="#555" stroke-width="1"/>
<text x="678.50" y="132.4" font-size="9" text-anchor="middle" fill="#231f20" font-weight="normal" >55</text>
<text x="470.9" y="145.8" font-size="9.1" fill="#231f20">Normalized detuning 2<tspan font-family="Liberation Serif" font-size="9.55">δω</tspan><tspan font-size="5.64" dy="3.00">p</tspan><tspan dy="-3.00">/</tspan><tspan font-family="Liberation Serif" font-size="9.55">κ</tspan><tspan font-size="5.64" dy="3.00">p</tspan></text>
<text x="0" y="0" font-size="8.3" text-anchor="middle" fill="#231f20" font-weight="normal" transform="translate(346.6,62.4) rotate(-90)">Power (a.u.)</text>
<line x1="527.4" y1="21.3" x2="555" y2="21.3" stroke="#d8405a" stroke-width="1.1"/>
<line x1="527.4" y1="36.1" x2="555" y2="36.1" stroke="#5670b8" stroke-width="1.15"/>
<text x="560.2" y="23.3" font-size="9" text-anchor="start" fill="#231f20" font-weight="normal" >Primary soliton</text>
<text x="560.2" y="39.6" font-size="9" text-anchor="start" fill="#231f20" font-weight="normal" >Secondary soliton</text>
<text x="419.3" y="76.6" font-size="9.2" text-anchor="middle" fill="#231f20" font-weight="normal" >Below</text>
<text x="419.3" y="87.5" font-size="9.2" text-anchor="middle" fill="#231f20" font-weight="normal" >threshold</text>
<text x="490.1" y="76.6" font-size="9.2" text-anchor="middle" fill="#231f20" font-weight="normal" >Above</text>
<text x="490.1" y="87.5" font-size="9.2" text-anchor="middle" fill="#231f20" font-weight="normal" >threshold</text>
<rect x="409.5" y="165.1" width="74.5" height="97.9" fill="url(#gy)"/>
<rect x="484" y="165.1" width="10.100000000000023" height="97.9" fill="url(#gp)"/>
<rect x="551.6" y="164.9" width="81.10000000000002" height="97.9" fill="url(#gy)"/>
<rect x="632.7" y="164.9" width="18.199999999999932" height="97.9" fill="url(#gp)"/>
<polyline points="390.4,165.1 391.3,184.5 392.5,170.5 393.3,179.0 394.6,168.5 395.2,172.0 396.3,185.0 398.1,196.2 399.5,186.2 401.1,188.8 402.9,204.8 405.9,193.0 408.4,206.0 410.5,198.9 413.0,207.3 415.6,200.6 418.1,206.9 420.6,201.8 423.2,206.0 425.7,202.7 428.2,205.2 430.9,202.3 433.5,204.6 435.9,202.2 438.1,204.2 440.3,201.8 442.5,203.4 443.8,201.6 445.0,202.8 446.2,201.3 447.5,202.3 448.8,201.0 450.0,201.7 451.2,200.7 452.5,201.2 453.8,200.4 455.0,200.6 456.2,200.1 457.5,200.1 458.8,199.8 460.0,199.6 461.2,199.4 462.5,199.2 463.8,199.0 465.0,198.7 466.2,198.5 467.5,198.3 468.8,198.1 470.0,197.9 471.2,197.7 472.5,197.5 473.8,197.2 475.0,197.0 476.2,196.8 477.5,196.6 478.8,196.4 480.0,196.2 481.2,196.0 482.5,195.7 483.8,195.5 485.0,195.3 488.1,194.4 490.5,193.6 491.8,193.5 493.2,196.5 494.2,202.0 495.2,210.3 497.0,222.4 499.1,231.5 502.1,240.6 506.7,248.2 512.7,255.2 518.4,259.2" fill="none" stroke="#d42a48" stroke-width="1.05" stroke-linejoin="round"/>
<polyline points="485.0,262.6 488.5,259.5 492.5,255.2 494.5,256.8 497.0,258.6 501.0,260.2 505.3,261.2 511.0,262.0 518.4,262.6" fill="none" stroke="#2a4ca8" stroke-width="1.1" stroke-linejoin="round"/>
<polyline points="541.8,165.0 544.4,186.9 546.0,176.8 548.2,195.7 550.3,185.3 552.8,184.9 555.0,190.6 558.7,187.8 561.0,189.5 562.5,189.8 564.0,189.7 565.5,189.7 567.0,189.9 568.5,189.4 570.0,189.3 571.5,190.0 573.0,189.1 574.5,189.7 576.0,189.6 577.5,189.0 579.0,189.8 580.5,189.9 582.0,189.6 583.5,189.7 585.0,189.8 586.5,189.1 588.0,189.5 589.5,189.5 591.0,189.8 592.5,189.8 594.0,189.8 595.5,189.6 597.0,189.9 598.5,189.7 600.0,189.7 601.5,189.2 603.0,189.0 604.5,189.1 606.0,189.4 607.5,189.1 609.0,189.8 610.5,189.6 612.0,189.6 613.5,189.6 615.0,189.7 616.5,189.5 618.0,189.0 619.5,189.8 621.0,189.7 622.5,189.5 624.0,189.5 625.5,189.7 627.0,189.1 628.5,189.7 630.0,189.3 631.5,189.1 633.0,189.3 634.5,189.7 636.0,189.2 637.5,189.7 639.0,190.0 640.5,189.5 642.0,189.4 643.5,189.5 645.0,189.7 646.5,189.8 648.0,189.6 649.5,189.6 649.2,189.6 651.3,193.2 652.5,205.0 653.5,238.6 655.3,234.1 656.8,242.4 658.3,240.2 659.8,240.1 661.3,240.6 662.8,241.0 664.3,241.9 665.8,241.8 667.3,242.4 668.8,242.2 670.3,242.6 671.8,243.2 673.3,244.0 674.8,244.4 676.3,244.7 677.8,244.7 679.3,245.3" fill="none" stroke="#d42a48" stroke-width="1.05" stroke-linejoin="round"/>
<polyline points="539.7,226.2 540.8,231.0 542.1,238.3 543.3,248.0 544.5,255.5 546.0,257.2 547.2,257.5 548.5,256.6 550.2,256.9 552.2,258.9 552.9,259.5 553.6,259.5 554.3,258.9 555.0,260.3 555.7,259.1 556.4,260.5 557.1,260.4 557.8,258.7 558.5,259.5 559.2,260.2 559.9,260.4 560.6,259.5 561.3,259.2 562.0,259.1 562.7,260.4 563.4,259.1 564.1,259.7 564.8,259.0 565.5,259.6 566.2,260.4 566.9,258.9 567.6,260.2 568.3,259.6 569.0,260.3 569.7,260.0 570.4,259.1 571.1,260.3 571.8,259.6 572.5,258.7 573.2,258.7 573.9,259.6 574.6,259.5 575.3,259.2 576.0,259.0 576.7,259.3 577.4,259.3 578.1,260.2 578.8,258.7 579.5,260.1 580.2,260.2 580.9,258.9 581.6,260.4 582.3,260.0 583.0,260.3 583.7,259.2 584.4,259.4 585.1,259.4 585.8,260.5 586.5,259.8 587.2,259.3 587.9,259.5 588.6,259.2 589.3,258.8 590.0,258.9 590.7,260.2 591.4,259.2 592.1,260.4 592.8,259.1 593.5,259.2 594.2,259.6 594.9,259.0 595.6,259.4 596.3,260.4 597.0,260.3 597.7,260.2 598.4,259.8 599.1,260.3 599.8,260.4 600.5,259.7 601.2,260.0 601.9,258.8 602.6,260.0 603.3,259.5 604.0,260.1 604.7,259.9 605.4,259.2 606.1,258.8 606.8,260.4 607.5,258.9 608.2,259.5 608.9,259.3 609.6,259.2 610.3,260.0 611.0,260.5 611.7,259.2 612.4,259.9 613.1,259.2 613.8,259.7 614.5,259.4 615.2,259.0 615.9,259.0 616.6,259.1 617.3,260.3 618.0,259.6 618.7,259.1 619.4,260.3 620.1,260.5 620.8,259.5 621.5,259.0 622.2,259.0 622.9,258.9 623.6,259.3 624.3,258.9 625.0,259.1 625.7,259.2 626.4,259.7 627.1,260.3 627.8,260.0 628.5,259.4 629.2,259.3 629.9,259.3 630.6,258.9 631.3,258.6 632.0,258.0 632.7,258.0 633.4,258.5 634.1,257.2 634.8,257.3 635.5,257.1 636.2,257.0 636.9,255.9 637.6,255.6 638.3,255.2 639.0,255.0 639.7,254.8 640.4,255.0 641.1,254.6 641.8,254.4 642.5,253.1 643.2,252.8 643.9,253.4 644.6,253.5 645.3,252.8 646.0,252.8 646.7,252.0 647.4,252.4 648.1,253.0 648.8,252.9 649.8,252.8 651.0,255.0 652.3,259.5 654.0,261.6 654.7,262.4 655.4,262.6 656.1,261.7 656.8,261.5 657.5,261.6 658.2,262.0 658.9,262.2 659.6,262.5 660.3,262.3 661.0,262.2 661.7,262.3 662.4,261.9 663.1,262.1 663.8,261.4 664.5,262.3 665.2,261.7 665.9,262.5 666.6,262.2 667.3,261.8 668.0,261.6 668.7,261.7 669.4,262.2 670.1,262.2 670.8,261.5 671.5,261.5 672.2,262.0 672.9,262.1 673.6,261.9 674.3,261.7 675.0,262.1 675.7,261.4 676.4,261.8 677.1,262.0 677.8,262.6 678.5,262.2" fill="none" stroke="#2a4ca8" stroke-width="1.1" stroke-linejoin="round"/>
<line x1="379.0" y1="165.1" x2="518.6" y2="165.1" stroke="#a8a8a8" stroke-width="1.3"/>
<line x1="379.0" y1="263.1" x2="518.6" y2="263.1" stroke="#9a9a9a" stroke-width="1.3"/>
<line x1="379.0" y1="164.45" x2="379.0" y2="263.75" stroke="#9c9c9c" stroke-width="1.3"/>
<line x1="518.6" y1="164.45" x2="518.6" y2="263.75" stroke="#5a5a5a" stroke-width="1.3"/>
<line x1="376.8" y1="197.4" x2="379.0" y2="197.4" stroke="#555" stroke-width="1"/>
<line x1="376.8" y1="230.2" x2="379.0" y2="230.2" stroke="#555" stroke-width="1"/>
<line x1="539.5" y1="164.7" x2="678.6" y2="164.7" stroke="#808080" stroke-width="1.3"/>
<line x1="539.5" y1="263.0" x2="678.6" y2="263.0" stroke="#9a9a9a" stroke-width="1.3"/>
<line x1="539.5" y1="164.04999999999998" x2="539.5" y2="263.65" stroke="#555" stroke-width="1.3"/>
<line x1="678.6" y1="164.04999999999998" x2="678.6" y2="263.65" stroke="#6a6a6a" stroke-width="1.3"/>
<line x1="537.3" y1="197.4" x2="539.5" y2="197.4" stroke="#555" stroke-width="1"/>
<line x1="537.3" y1="230.2" x2="539.5" y2="230.2" stroke="#555" stroke-width="1"/>
<line x1="379.00" y1="263" x2="379.00" y2="265.5" stroke="#555" stroke-width="1"/>
<text x="379.00" y="278.2" font-size="9" text-anchor="middle" fill="#231f20" font-weight="normal" >0</text>
<line x1="410.10" y1="263" x2="410.10" y2="265.5" stroke="#555" stroke-width="1"/>
<text x="410.10" y="278.2" font-size="9" text-anchor="middle" fill="#231f20" font-weight="normal" >10</text>
<line x1="441.20" y1="263" x2="441.20" y2="265.5" stroke="#555" stroke-width="1"/>
<text x="441.20" y="278.2" font-size="9" text-anchor="middle" fill="#231f20" font-weight="normal" >20</text>
<line x1="472.30" y1="263" x2="472.30" y2="265.5" stroke="#555" stroke-width="1"/>
<text x="472.30" y="278.2" font-size="9" text-anchor="middle" fill="#231f20" font-weight="normal" >30</text>
<line x1="503.40" y1="263" x2="503.40" y2="265.5" stroke="#555" stroke-width="1"/>
<text x="503.40" y="278.2" font-size="9" text-anchor="middle" fill="#231f20" font-weight="normal" >40</text>
<line x1="539.50" y1="263" x2="539.50" y2="265.5" stroke="#555" stroke-width="1"/>
<text x="539.50" y="278.2" font-size="9" text-anchor="middle" fill="#231f20" font-weight="normal" >0</text>
<line x1="585.87" y1="263" x2="585.87" y2="265.5" stroke="#555" stroke-width="1"/>
<text x="585.87" y="278.2" font-size="9" text-anchor="middle" fill="#231f20" font-weight="normal" >0.5</text>
<line x1="632.24" y1="263" x2="632.24" y2="265.5" stroke="#555" stroke-width="1"/>
<text x="632.24" y="278.2" font-size="9" text-anchor="middle" fill="#231f20" font-weight="normal" >1</text>
<line x1="678.61" y1="263" x2="678.61" y2="265.5" stroke="#555" stroke-width="1"/>
<text x="678.61" y="278.2" font-size="9" text-anchor="middle" fill="#231f20" font-weight="normal" >1.5</text>
<text x="389.6" y="293.1" font-size="9.0" fill="#231f20">Normalized detuning 2<tspan font-family="Liberation Serif" font-size="9.45">δω</tspan><tspan font-size="5.58" dy="2.97">p</tspan><tspan dy="-2.97">/</tspan><tspan font-family="Liberation Serif" font-size="9.45">κ</tspan><tspan font-size="5.58" dy="2.97">p</tspan></text>
<text x="610.1" y="292.5" font-size="9" text-anchor="middle" fill="#231f20" font-weight="normal" >Scan time (μs)</text>
</svg>
</body></html>
